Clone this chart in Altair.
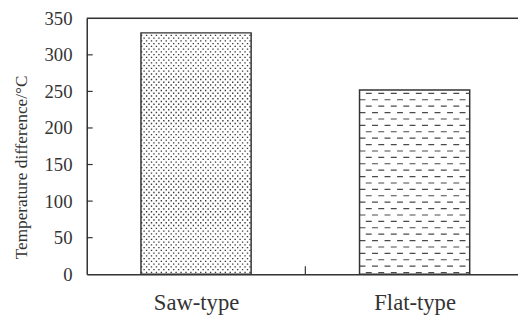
import json
import altair as alt
import numpy as np
import pandas as pd

# ---- data ----
categories = ["Saw-type", "Flat-type"]
values = [330, 252]
y_ticks = [0, 50, 100, 150, 200, 250, 300, 350]
y_title = "Temperature difference/°C"

# ---- layout ----
W = 438          # visible plot width (plot continues past window edge)
XR = 444         # full x range in px
H = 260
PX = 350 / H     # data units per pixel
INK = "#333333"
FONT = "Liberation Serif"

bars = pd.DataFrame({"cat": categories, "value": values})
bars["xc"] = np.arange(len(categories)) + 0.5
bars["xl"] = bars["xc"] - 0.252
bars["xr"] = bars["xc"] + 0.252

# decorative hatch rows (dots for first bar, dashes for second)
rows = []
specs = [("dot", 2.5, 2.8), ("dash", 3.5, 6.5)]
for (kind, first, step), (_, b) in zip(specs, bars.iterrows()):
    k = 0
    while True:
        yv = b["value"] - (first + k * step) * PX
        if yv < 1.5 * PX:
            break
        rows.append({"kind": kind, "parity": k % 2, "y": yv, "xl": b["xl"], "xr": b["xr"]})
        k += 1
hatch = pd.DataFrame(rows)

xscale = alt.Scale(domain=[0, len(categories)], range=[0, XR], nice=False, zero=False)
yscale = alt.Scale(domain=[0, 350], nice=False)

label_expr = json.dumps(categories) + "[floor(datum.value)]"
x_axis = alt.Axis(
    values=[i + 0.5 for i in range(len(categories))],
    labelExpr=label_expr, ticks=False, grid=False, title=None,
    domainColor=INK, domainWidth=1.5,
    labelFont=FONT, labelFontSize=23, labelColor=INK, labelPadding=18,
)
y_axis = alt.Axis(
    values=y_ticks, ticks=False, grid=False, title=y_title,
    domainColor=INK, domainWidth=1.5,
    labelFont=FONT, labelFontSize=19, labelColor=INK, labelPadding=15,
    titleFont=FONT, titleFontSize=17.5, titleColor=INK, titleFontWeight="normal",
    titleAngle=270, titleX=-66, titleY=151, titleAlign="center", titleBaseline="middle",
)


def X(field):
    return alt.X(field, type="quantitative", scale=xscale, axis=x_axis)


def Y(field):
    return alt.Y(field, type="quantitative", scale=yscale, axis=y_axis)


def hatch_layer(kind, parity, dash, offset, width, color):
    return alt.Chart(hatch).transform_filter(
        (alt.datum.kind == kind) & (alt.datum.parity == parity)
    ).mark_rule(
        strokeDash=dash, strokeDashOffset=offset, strokeWidth=width, color=color
    ).encode(x=X("xl"), x2="xr", y=Y("y"))


dots_a = hatch_layer("dot", 0, [1.4, 3.6], 0, 1.4, "#3a3a3a")
dots_b = hatch_layer("dot", 1, [1.4, 3.6], 2.5, 1.4, "#3a3a3a")
dash_a = hatch_layer("dash", 0, [6, 6.7], 6.35, 1.2, "#4a4a4a")
dash_b = hatch_layer("dash", 1, [6, 6.7], 0, 1.2, "#4a4a4a")

outline = alt.Chart(bars).mark_rect(
    fillOpacity=0, stroke=INK, strokeWidth=1.5
).encode(x=X("xl"), x2="xr", y=Y("value"), y2=alt.datum(0))

tick_df = pd.DataFrame({"t": y_ticks[1:-1]})
y_ticks_in = alt.Chart(tick_df).mark_rule(color=INK, strokeWidth=1.2).encode(
    y=Y("t"), x=alt.value(0), x2=alt.value(6)
)

bound_df = pd.DataFrame({"b": np.arange(1, len(categories))})
x_ticks_in = alt.Chart(bound_df).mark_rule(color=INK, strokeWidth=1.2).encode(
    x=X("b"), y=alt.value(H), y2=alt.value(H - 8)
)

top_border = alt.Chart(bound_df).mark_rule(color=INK, strokeWidth=1.5).encode(
    y=alt.value(0), x=alt.value(0), x2=alt.value(XR)
)

chart = alt.layer(
    dots_a, dots_b, dash_a, dash_b, outline, y_ticks_in, x_ticks_in, top_border
).properties(
    width=W, height=H,
    autosize=alt.AutoSizeParams(type="none"),
    padding={"left": 80, "top": 8, "right": 0, "bottom": 40},
).configure_view(stroke=None).configure(background="white")

chart.save("out.html", embed_options={"renderer": "svg", "actions": False})
